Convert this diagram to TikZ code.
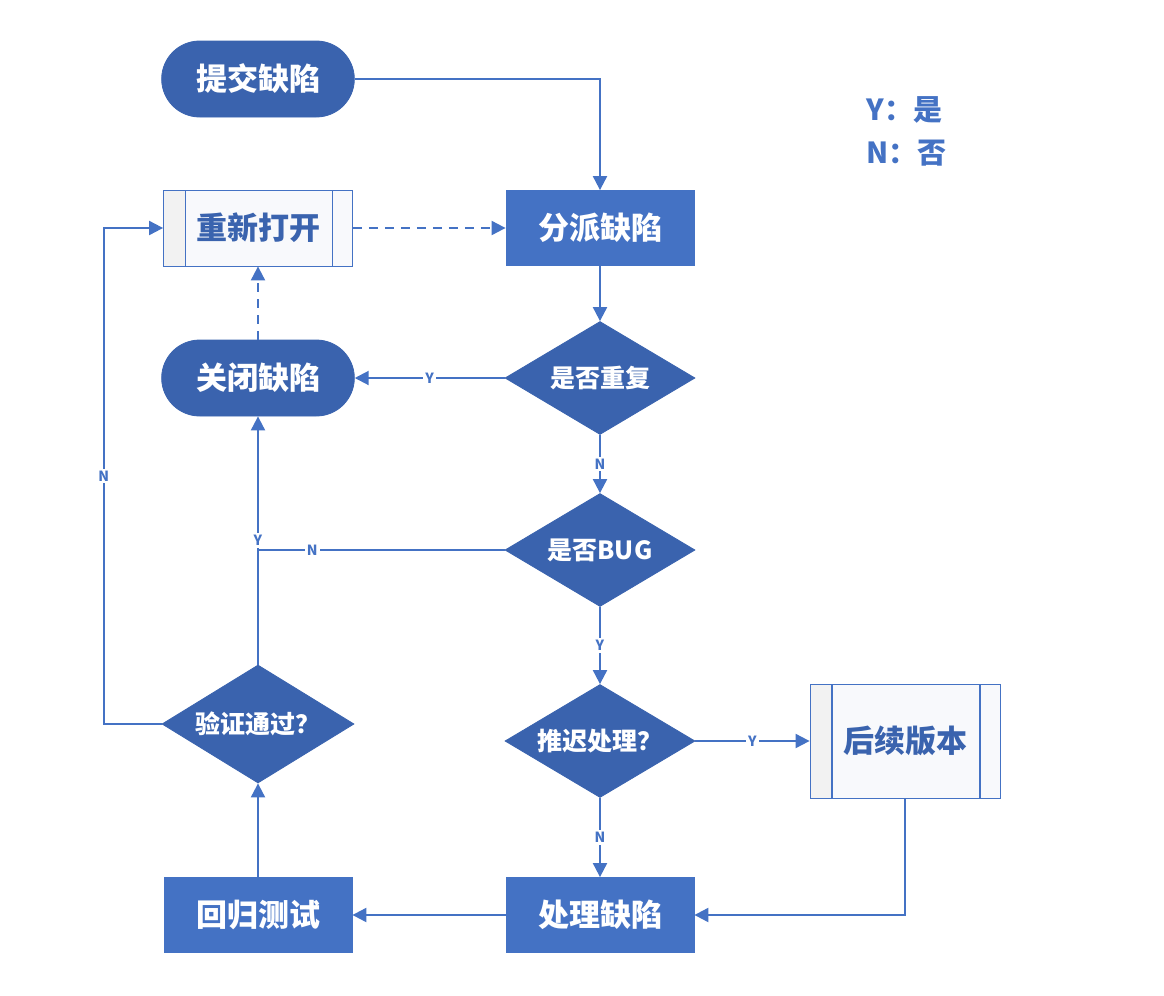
\documentclass[tikz,border=0pt]{standalone}
\usepackage{fontspec}
\setmainfont{Noto Sans CJK SC}
\usetikzlibrary{arrows.meta,shapes.geometric,shapes.misc}
\definecolor{bugblue}{HTML}{4472C4}
\definecolor{bugdark}{HTML}{3A63AE}
\definecolor{bugpale}{HTML}{F8F9FC}
\tikzset{
  term/.style={rounded rectangle,fill=bugdark,draw=bugdark,text=white,minimum width=103pt,minimum height=38pt,font=\bfseries\fontsize{15.5}{18}\selectfont},
  proc/.style={rectangle,fill=bugblue,draw=bugblue,text=white,minimum width=94pt,minimum height=37.5pt,font=\bfseries\fontsize{15.5}{18}\selectfont},
  decide/.style={diamond,aspect=1.7,fill=bugdark,draw=bugdark,text=white,inner sep=0pt,minimum width=95pt,minimum height=56.5pt,font=\bfseries\fontsize{12.5}{14}\selectfont},
  subproc/.style={rectangle,fill=bugpale,draw=bugblue,text=bugdark,minimum width=94.5pt,minimum height=38pt,font=\bfseries\fontsize{15.5}{18}\selectfont,
    path picture={
      \fill[black!5] (path picture bounding box.north west) rectangle ([xshift=11pt]path picture bounding box.south west);
      \draw[bugblue,line width=.6pt] ([xshift=11pt]path picture bounding box.north west) -- ([xshift=11pt]path picture bounding box.south west)
        ([xshift=-10pt]path picture bounding box.north east) -- ([xshift=-10pt]path picture bounding box.south east);}},
  link/.style={draw=bugblue,line width=1pt},
  flow/.style={link,-{Triangle[length=7pt,width=7pt]}},
  yn/.style={fill=white,text=bugblue,inner sep=1pt,font=\bfseries\fontsize{7}{8}\selectfont},
  legend/.style={anchor=west,text=bugblue,inner sep=0pt,font=\bfseries\fontsize{14.5}{16}\selectfont}
}
\begin{document}
\begin{tikzpicture}[x=0.5pt,y=-0.5pt]
  \useasboundingbox (0,0) rectangle (1164,996);
  % nodes
  \node[term] (submit) at (258,79) {提交缺陷};
  \node[subproc] (reopen) at (258,228) {重新打开};
  \node[proc] (assign) at (600,228) {分派缺陷};
  \node[decide] (dup) at (600,378) {是否重复};
  \node[term] (close) at (258,378) {关闭缺陷};
  \node[decide] (isbug) at (600,550) {是否BUG};
  \node[decide,minimum width=96pt,minimum height=59pt] (verify) at (258,724) {验证通过？};
  \node[decide] (defer) at (600,741) {推迟处理？};
  \node[subproc,minimum width=95pt,minimum height=57pt] (later) at (905,741) {后续版本};
  \node[proc] (fix) at (600,915) {处理缺陷};
  \node[proc] (retest) at (258,915) {回归测试};
  \node[legend] (legy) at (866,110) {Y：是};
  \node[legend] (legn) at (866,153) {N：否};
  % connectors
  \draw[flow] (submit.east) -| (assign.north);
  \draw[flow,dash pattern=on 4.5pt off 3.5pt] (reopen.east) -- (assign.west);
  \draw[flow] (assign) -- (dup);
  \draw[flow] (dup.west) -- node[yn]{Y} (close.east);
  \draw[flow] (dup) -- node[yn]{N} (isbug);
  \draw[flow] (isbug) -- node[yn]{Y} (defer);
  \draw[flow] (defer.east) -- node[yn]{Y} (later.west);
  \draw[flow] (defer) -- node[yn]{N} (fix);
  \draw[flow] (later.south) |- (fix.east);
  \draw[flow] (fix.west) -- (retest.east);
  \draw[flow] (retest) -- (verify);
  \draw[flow] (verify.north) -- node[yn]{Y} (close.south);
  \draw[link] (isbug.west) -- node[yn,pos=.78]{N} (isbug.west -| verify.north);
  \draw[flow,dash pattern=on 4.5pt off 3.5pt] (close.north) -- (reopen.south);
  \draw[flow] (verify.west) -- ++(-58,0) |- node[yn,pos=.25]{N} (reopen.west);
\end{tikzpicture}
\end{document}
